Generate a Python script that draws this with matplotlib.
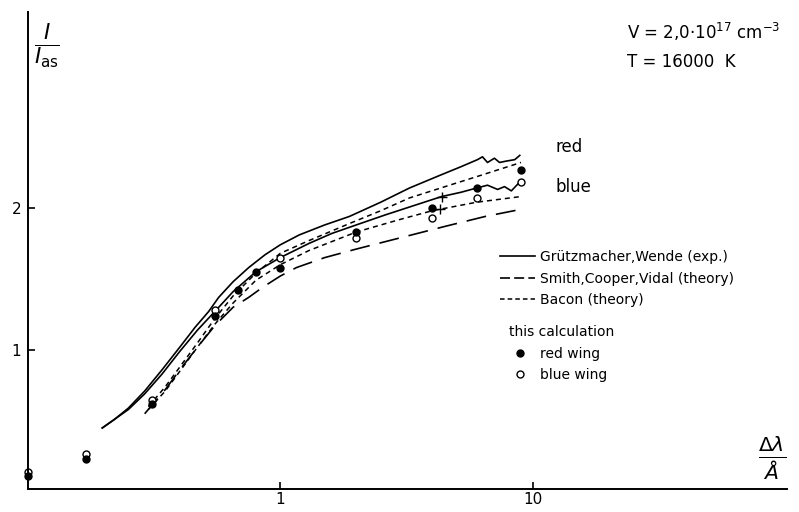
import matplotlib
matplotlib.use("Agg")
import matplotlib.pyplot as plt
from matplotlib.lines import Line2D

# Grützmacher, Wende (exp.) - red and blue wing
exp_red_x = [0.197, 0.22, 0.25, 0.29, 0.34, 0.40, 0.46, 0.52, 0.57, 0.65, 0.75, 0.87, 1.0,
             1.19, 1.5, 1.88, 2.5, 3.25, 4.3, 5.2, 6.05, 6.33, 6.63, 7.06, 7.40, 7.88, 8.5, 8.9]
exp_red_y = [0.45, 0.51, 0.59, 0.71, 0.86, 1.02, 1.16, 1.27, 1.37, 1.48, 1.58, 1.67, 1.74,
             1.81, 1.88, 1.94, 2.04, 2.14, 2.23, 2.29, 2.34, 2.36, 2.32, 2.35, 2.32, 2.33, 2.34, 2.37]
exp_blue_x = [0.197, 0.22, 0.25, 0.29, 0.34, 0.40, 0.47, 0.55, 0.65, 0.80, 1.0, 1.3, 1.6,
              2.0, 2.6, 3.3, 4.36, 5.2, 6.0, 6.63, 7.27, 7.74, 8.24, 8.87]
exp_blue_y = [0.45, 0.51, 0.58, 0.69, 0.83, 0.99, 1.14, 1.27, 1.41, 1.55, 1.65, 1.75, 1.82,
              1.88, 1.95, 2.01, 2.08, 2.11, 2.14, 2.16, 2.13, 2.15, 2.12, 2.18]
exp_cross_x = [4.36, 4.3]
exp_cross_y = [2.08, 1.99]

# Smith, Cooper, Vidal (theory)
smith_x = [0.29, 0.35, 0.40, 0.47, 0.55, 0.65, 0.75, 0.85, 1.0, 1.16, 1.5, 2.0, 3.0, 4.5, 6.5, 9.0]
smith_y = [0.55, 0.72, 0.86, 1.02, 1.17, 1.30, 1.37, 1.44, 1.52, 1.58, 1.65, 1.71, 1.79, 1.87, 1.94, 1.99]

# Bacon (theory) - red and blue wing
bacon_red_x = [0.30, 0.35, 0.40, 0.47, 0.55, 0.65, 0.80, 1.0, 1.3, 1.88, 2.5, 3.25, 4.5, 6.0, 9.0]
bacon_red_y = [0.60, 0.74, 0.88, 1.05, 1.22, 1.38, 1.54, 1.68, 1.77, 1.89, 1.98, 2.07, 2.15, 2.22, 2.32]
bacon_blue_x = [0.30, 0.35, 0.40, 0.47, 0.55, 0.65, 0.80, 1.0, 1.3, 2.0, 3.0, 4.0, 6.0, 9.0]
bacon_blue_y = [0.58, 0.71, 0.85, 1.02, 1.18, 1.33, 1.49, 1.60, 1.70, 1.83, 1.92, 1.98, 2.04, 2.08]

# this calculation
red_x = [0.1, 0.17, 0.31, 0.55, 0.68, 0.8, 1.0, 2.0, 4.0, 6.0, 9.0]
red_y = [0.11, 0.23, 0.62, 1.24, 1.42, 1.55, 1.58, 1.83, 2.00, 2.14, 2.27]
blue_x = [0.1, 0.17, 0.31, 0.55, 1.0, 2.0, 4.0, 6.0, 9.0]
blue_y = [0.14, 0.27, 0.65, 1.28, 1.65, 1.79, 1.93, 2.07, 2.18]

W, H = 799, 512
fig = plt.figure(figsize=(W / 100, H / 100), dpi=100)
ax = fig.add_axes([28 / W, 1 - 489 / H, (787 - 28) / W, (489 - 12) / H])
ax.set_xscale("log")
ax.set_xlim(0.1, 102)
ax.set_ylim(0.02, 3.38)

lw = 1.2
ax.plot(exp_red_x, exp_red_y, color="black", lw=lw)
ax.plot(exp_blue_x, exp_blue_y, color="black", lw=lw)
ax.plot(exp_cross_x, exp_cross_y, "+", color="black", ms=7, mew=1.0)
ax.plot(smith_x, smith_y, color="black", lw=lw, dashes=(12, 6))
ax.plot(bacon_red_x, bacon_red_y, color="black", lw=1.1, dashes=(3.3, 2.6))
ax.plot(bacon_blue_x, bacon_blue_y, color="black", lw=1.1, dashes=(3.3, 2.6))
ax.plot(blue_x, blue_y, "o", ms=5, mfc="white", mec="black", mew=1.0, clip_on=False)
ax.plot(red_x, red_y, "o", ms=5, color="black", clip_on=False)

ax.text(12.3, 2.43, "red", fontsize=12, va="center", ha="left")
ax.text(12.3, 2.15, "blue", fontsize=12, va="center", ha="left")

for s in ["top", "right"]:
    ax.spines[s].set_visible(False)
for s in ["left", "bottom"]:
    ax.spines[s].set_linewidth(1.4)

ax.set_xticks([1, 10])
ax.set_xticklabels(["1", "10"])
ax.xaxis.set_minor_locator(plt.NullLocator())
ax.set_yticks([1, 2])
ax.set_yticklabels(["1", "2"])
ax.tick_params(direction="in", length=5, width=1.2, labelsize=11, pad=5)
ax.tick_params(axis="x", pad=2)

# legends
fs = 10
line_handles = [
    Line2D([], [], color="black", lw=lw),
    Line2D([], [], color="black", lw=lw, dashes=(6, 2.5)),
    Line2D([], [], color="black", lw=1.1, dashes=(3, 2)),
]
line_labels = ["Grützmacher,Wende (exp.)", "Smith,Cooper,Vidal (theory)", "Bacon (theory)"]
leg1 = fig.legend(line_handles, line_labels, loc="upper left",
                  bbox_to_anchor=(500 / W, 1 - 250 / H), frameon=False, fontsize=fs,
                  handlelength=2.5, handletextpad=0.35, labelspacing=0.55,
                  borderpad=0, borderaxespad=0)

mark_handles = [
    Line2D([], [], ls="none", marker="o", ms=5, color="black"),
    Line2D([], [], ls="none", marker="o", ms=5, mfc="white", mec="black", mew=1.0),
]
mark_labels = ["red wing", "blue wing"]
leg2 = fig.legend(mark_handles, mark_labels, loc="upper left", title="this calculation",
                  title_fontsize=fs, alignment="left",
                  bbox_to_anchor=(509 / W, 1 - 325 / H), frameon=False, fontsize=fs,
                  handlelength=1.6, handletextpad=0.65, labelspacing=0.55,
                  borderpad=0, borderaxespad=0, numpoints=1)

# axis labels and conditions
fig.text(47 / W, 1 - 46 / H, r"$\frac{I}{I_{\rm as}}$", fontsize=22, ha="center", va="center")
fig.text(772 / W, 1 - 458 / H, r"$\frac{\Delta\lambda}{\AA}$", fontsize=21, ha="center", va="center")
fig.text(627 / W, 1 - 39 / H, r"V = 2,0·10$^{17}$ cm$^{-3}$", fontsize=12, ha="left", va="baseline")
fig.text(627 / W, 1 - 67 / H, "T = 16000  K", fontsize=12, ha="left", va="baseline")

fig.savefig("out.png", dpi=100)
